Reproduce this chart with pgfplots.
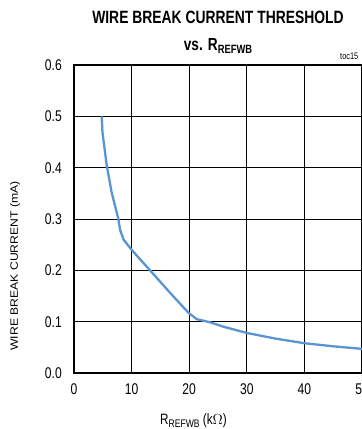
\documentclass[border=0pt]{standalone}
\usepackage{pgfplots}
\pgfplotsset{compat=1.18}
\usepackage{fontspec}
\setmainfont{Liberation Sans}[FakeStretch=0.78]
\newfontfamily\rotfont{Liberation Sans}[FakeStretch=1.14]
\definecolor{curve}{RGB}{88,149,210}
\begin{document}
\begin{tikzpicture}
\begin{axis}[
  scale only axis,
  width=288pt, height=308pt,
  xmin=0, xmax=50, ymin=0, ymax=0.6,
  xtick={0,10,20,30,40,50},
  ytick={0,0.1,0.2,0.3,0.4,0.5,0.6},
  grid=major,
  major grid style={black, line width=0.7pt},
  major tick length=0pt,
  axis line style={black, line width=2.6pt},
  /pgf/number format/assume math mode=true,
  yticklabel={\pgfmathprintnumber[fixed,fixed zerofill,precision=1]{\tick}},
  xticklabel={\pgfmathprintnumber[fixed,precision=0]{\tick}},
  tick label style={font=\fontsize{15.5}{16}\selectfont, inner sep=0pt},
  yticklabel style={anchor=east, xshift=-12pt},
  xticklabel style={anchor=north, yshift=-10pt},
  clip=false,
]
\addplot[curve, line width=2.3pt] coordinates {
(4.8,0.500) (4.95,0.468) (5.7,0.403) (6.55,0.351) (7.7,0.300) (8.0,0.279)
(8.6,0.260) (10,0.240) (13.2,0.200) (16.7,0.156) (19.9,0.117) (21.3,0.105)
(23.65,0.0987) (26,0.090) (30,0.078) (35,0.067) (40,0.058) (45,0.052) (50,0.047)
};
\coordinate (sw) at (rel axis cs:0,0);
\coordinate (ne) at (rel axis cs:1,1);
\coordinate (nc) at (rel axis cs:0.5,1);
\end{axis}
\node[anchor=base, inner sep=0pt, font=\bfseries\fontsize{17.8}{18}\selectfont] at ([yshift=41pt]nc) {WIRE BREAK CURRENT THRESHOLD};
\node[anchor=base, inner sep=0pt, font=\bfseries\fontsize{17.5}{18}\selectfont] at ([yshift=14pt]nc) {vs. R\raisebox{-3pt}{\fontsize{12}{12}\selectfont REFWB}};
\node[anchor=base west, inner sep=0pt, font=\fontsize{9.5}{10}\selectfont] at ([shift={(-22pt,5pt)}]ne) {toc15};
\node[anchor=base west, inner sep=0pt, font=\fontsize{15}{16}\selectfont] at ([shift={(86pt,-52pt)}]sw) {R\raisebox{-2.5pt}{\fontsize{11}{11}\selectfont REFWB} (k\(\Omega\))};
\node[rotate=90, inner sep=0pt, font=\rotfont\fontsize{10.7}{11}\selectfont] at ([shift={(-59pt,107pt)}]sw) {WIRE BREAK CURRENT (mA)};
\pgfresetboundingbox
\path[use as bounding box] ([shift={(-74pt,-56pt)}]sw) rectangle ([yshift=65pt]ne);
\end{tikzpicture}
\end{document}
